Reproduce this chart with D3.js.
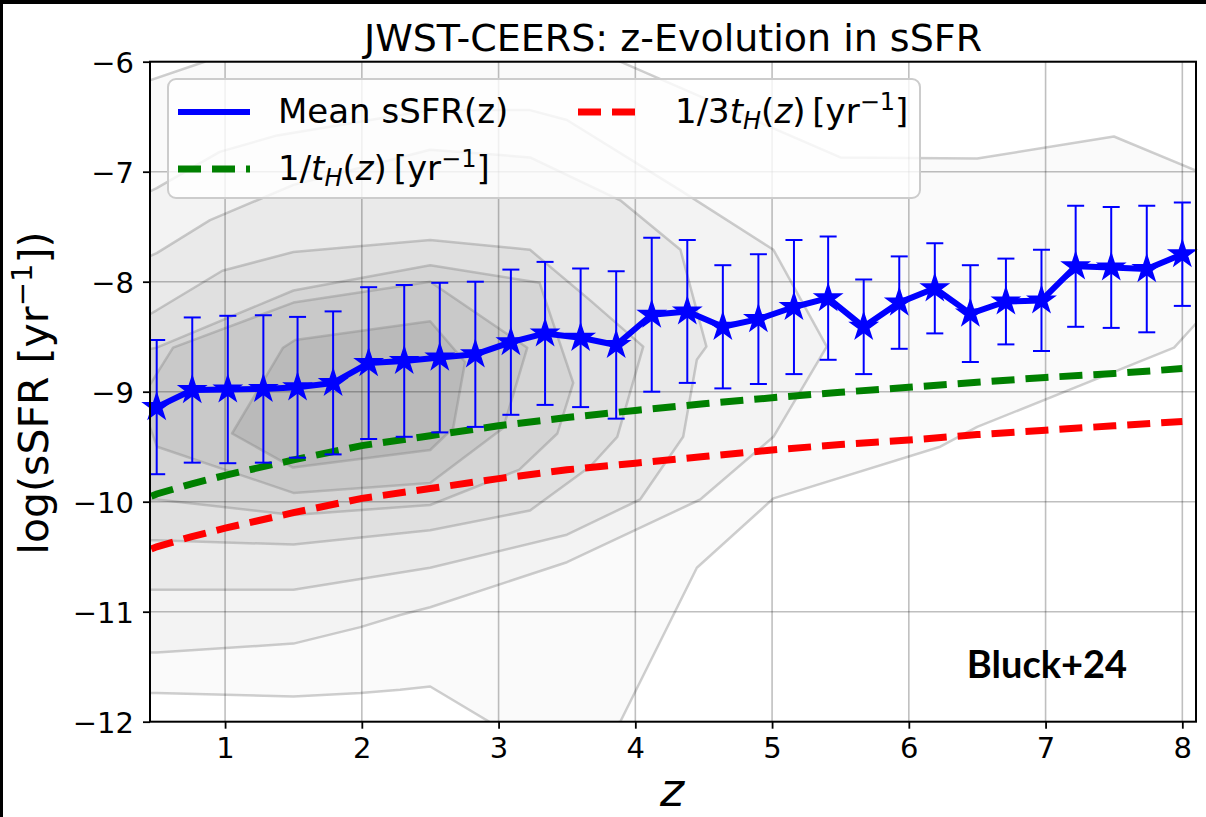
<!DOCTYPE html>
<html>
<head>
<meta charset="utf-8">
<script src="https://cdn.jsdelivr.net/npm/d3@7"></script>
<style>
  body { margin: 0; background: #fff; }
  svg { display: block; }
  text { font-family: "DejaVu Sans", sans-serif; }
</style>
</head>
<body>
<div id="chart"></div>
<script>
// redshift bins and mean sSFR with 1-sigma errors
const zBins = [0.50, 0.76, 1.02, 1.28, 1.53, 1.79, 2.05, 2.31, 2.57, 2.83,
               3.09, 3.34, 3.60, 3.86, 4.12, 4.38, 4.64, 4.90, 5.16, 5.41,
               5.67, 5.93, 6.19, 6.45, 6.71, 6.97, 7.22, 7.48, 7.74, 8.00];
const meanSSFR = [-9.14, -8.985, -8.98, -8.975, -8.96, -8.92, -8.74, -8.72, -8.69, -8.66,
                  -8.55, -8.47, -8.51, -8.575, -8.30, -8.27, -8.41, -8.34, -8.23, -8.15,
                  -8.41, -8.19, -8.06, -8.29, -8.18, -8.17, -7.86, -7.87, -7.885, -7.75];
const errSSFR = [0.61, 0.66, 0.67, 0.67, 0.64, 0.65, 0.69, 0.69, 0.68, 0.66,
                 0.66, 0.65, 0.63, 0.67, 0.70, 0.65, 0.56, 0.59, 0.61, 0.56,
                 0.43, 0.42, 0.41, 0.44, 0.39, 0.46, 0.55, 0.55, 0.575, 0.47];

// Hubble-time curves
const zCurve = [0.46, 0.5, 0.75, 1.0, 1.5, 2.0, 2.5, 3.0, 3.5, 4.0, 4.5, 5.0, 5.5, 6.0, 6.5, 7.0, 7.5, 8.0];
const invTH = [-9.95, -9.93, -9.84, -9.76, -9.62, -9.49, -9.40, -9.31, -9.235, -9.17,
               -9.11, -9.055, -9.005, -8.96, -8.915, -8.87, -8.835, -8.79];
const invThirdTH = [-10.43, -10.41, -10.32, -10.24, -10.10, -9.97, -9.88, -9.79, -9.71, -9.65,
                    -9.59, -9.53, -9.48, -9.44, -9.39, -9.35, -9.31, -9.27];

// KDE density contours (outer to inner), vertices as [z, log sSFR]
const kdeLevel1 = [[0.3, -6.1], [0.45, -6.17], [0.85, -6.0], [1.2, -5.7], [3.5, -5.7], [3.89, -6.0],
  [5.5, -6.87], [6.5, -6.88], [7.5, -6.68], [8.1, -6.99], [8.3, -7.0], [8.3, -8.2], [8.1, -8.38],
  [7.94, -8.6], [6.5, -9.32], [6.23, -9.5], [5.01, -9.97], [4.45, -10.6], [3.89, -12.0], [3.2, -12.2],
  [2.5, -11.68], [2.28, -11.71], [1.99, -11.74], [1.5, -11.77], [0.5, -11.74], [0.3, -11.74]];
const kdeLevel2 = [[0.3, -7.27], [0.5, -7.15], [0.96, -6.82], [1.38, -6.67], [2.5, -6.44], [3.23, -6.44],
  [3.5, -6.53], [4.33, -7.17], [5.01, -7.71], [5.40, -8.59], [5.01, -9.41], [4.475, -9.98],
  [3.5, -10.55], [2.5, -10.96], [2.28, -11.03], [1.99, -11.14], [1.5, -11.29], [0.5, -11.37], [0.3, -11.37]];
const kdeLevel3 = [[0.3, -7.85], [0.5, -7.74], [0.89, -7.44], [1.5, -7.12], [2.5, -6.8], [3.23, -6.87],
  [3.89, -7.26], [4.33, -7.71], [4.52, -8.59], [4.45, -8.71], [4.35, -9.41], [4.035, -9.98],
  [3.5, -10.3], [2.5, -10.6], [1.5, -10.8], [0.5, -10.8], [0.3, -10.8]];
const kdeLevel4 = [[0.3, -8.4], [0.5, -8.26], [0.98, -7.9], [1.5, -7.73], [2.5, -7.62], [3.23, -7.71],
  [3.67, -8.17], [4.058, -8.59], [3.868, -9.41], [3.67, -9.68], [3.23, -10.08], [2.5, -10.26],
  [1.5, -10.39], [0.5, -10.35], [0.3, -10.35]];
const kdeLevel5 = [[0.3, -8.65], [0.5, -8.6], [1.5, -8.08], [2.5, -7.85], [3.30, -8.01], [3.546, -8.92],
  [3.43, -9.38], [3.15, -9.71], [2.5, -10.03], [1.5, -10.12], [0.5, -9.98], [0.3, -9.98]];
const kdeLevel6 = [[0.62, -8.6], [1.5, -8.19], [2.5, -8.0], [3.21, -8.6], [3.034, -9.33], [2.5, -9.83],
  [1.5, -9.92], [0.503, -9.5], [0.378, -9.08]];
const kdeLevel7 = [[1.051, -9.38], [1.424, -8.6], [1.512, -8.53], [2.5, -8.36], [2.755, -8.73],
  [2.668, -9.33], [2.5, -9.53], [1.497, -9.69]];
const kdeLevels = [kdeLevel1, kdeLevel2, kdeLevel3, kdeLevel4, kdeLevel5, kdeLevel6, kdeLevel7];
const kdeFills = ["#fafafa", "#f3f3f3", "#eaeaea", "#e0e0e0", "#d5d5d5", "#c9c9c9", "#bababa"];

const xTicks = [1, 2, 3, 4, 5, 6, 7, 8];
const yTicks = [-12, -11, -10, -9, -8, -7, -6];

const W = 1206, H = 817;
const margin = { top: 61.7, right: 10, bottom: 95.3, left: 150 };

const svg = d3.select("#chart").append("svg").attr("width", W).attr("height", H);

// screenshot frame on the top and left
svg.append("rect").attr("x", 0).attr("y", 0).attr("width", W).attr("height", 4).attr("fill", "#000");
svg.append("rect").attr("x", 0).attr("y", 0).attr("width", 3).attr("height", H).attr("fill", "#000");

const x = d3.scaleLinear().domain([0.451, 8.1]).range([margin.left, W - margin.right]);
const y = d3.scaleLinear().domain([-12, -6]).range([H - margin.bottom, margin.top]);

svg.append("clipPath").attr("id", "plotclip")
  .append("rect")
  .attr("x", x.range()[0]).attr("y", y.range()[1])
  .attr("width", x.range()[1] - x.range()[0]).attr("height", y.range()[0] - y.range()[1]);

const plot = svg.append("g").attr("clip-path", "url(#plotclip)");

// filled contours
const ring = d3.line().x(d => x(d[0])).y(d => y(d[1])).curve(d3.curveLinearClosed);
kdeLevels.forEach((lev, i) => {
  plot.append("path").attr("d", ring(lev)).attr("fill", kdeFills[i]).attr("stroke", "none");
});
kdeLevels.forEach((lev, i) => {
  plot.append("path").attr("d", ring(lev)).attr("fill", "none")
    .attr("stroke", "#888").attr("stroke-opacity", 0.4).attr("stroke-width", 2.5)
    .attr("stroke-linejoin", "round");
});

// grid
plot.selectAll(".gx").data(xTicks).enter().append("line")
  .attr("x1", d => x(d)).attr("x2", d => x(d))
  .attr("y1", y.range()[1]).attr("y2", y.range()[0])
  .attr("stroke", "#000").attr("stroke-opacity", 0.25).attr("stroke-width", 1.6);
plot.selectAll(".gy").data(yTicks).enter().append("line")
  .attr("x1", x.range()[0]).attr("x2", x.range()[1])
  .attr("y1", d => y(d)).attr("y2", d => y(d))
  .attr("stroke", "#000").attr("stroke-opacity", 0.25).attr("stroke-width", 1.6);

// Hubble time curves
const curve = d3.line().x((d, i) => x(zCurve[i])).y(d => y(d));
plot.append("path").attr("d", curve(invTH)).attr("fill", "none")
  .attr("stroke", "#008000").attr("stroke-width", 7).attr("stroke-dasharray", "23,11");
plot.append("path").attr("d", curve(invThirdTH)).attr("fill", "none")
  .attr("stroke", "#ff0000").attr("stroke-width", 7).attr("stroke-dasharray", "23,11");

// error bars
const pts = zBins.map((z, i) => ({ z: z, m: meanSSFR[i], e: errSSFR[i] }));
const eb = plot.append("g").attr("stroke", "#0000ff").attr("stroke-width", 2);
eb.selectAll(".ev").data(pts).enter().append("line")
  .attr("x1", d => x(d.z)).attr("x2", d => x(d.z))
  .attr("y1", d => y(d.m + d.e)).attr("y2", d => y(d.m - d.e));
eb.selectAll(".ct").data(pts).enter().append("line")
  .attr("x1", d => x(d.z) - 8.5).attr("x2", d => x(d.z) + 8.5)
  .attr("y1", d => y(d.m + d.e)).attr("y2", d => y(d.m + d.e));
eb.selectAll(".cb").data(pts).enter().append("line")
  .attr("x1", d => x(d.z) - 8.5).attr("x2", d => x(d.z) + 8.5)
  .attr("y1", d => y(d.m - d.e)).attr("y2", d => y(d.m - d.e));

// mean line with star markers
plot.append("path")
  .attr("d", d3.line().x(d => x(d.z)).y(d => y(d.m))(pts))
  .attr("fill", "none").attr("stroke", "#0000ff").attr("stroke-width", 6)
  .attr("stroke-linejoin", "round");

function starPath(r) {
  const r2 = r * 0.381966;
  let p = "";
  for (let k = 0; k < 10; k++) {
    const a = -Math.PI / 2 + k * Math.PI / 5;
    const rr = k % 2 === 0 ? r : r2;
    p += (k === 0 ? "M" : "L") + (rr * Math.cos(a)).toFixed(2) + "," + (rr * Math.sin(a)).toFixed(2);
  }
  return p + "Z";
}
svg.selectAll(".star").data(pts).enter().append("path")
  .attr("d", starPath(13.8))
  .attr("transform", d => `translate(${x(d.z)},${y(d.m)})`)
  .attr("fill", "#0000ff").attr("stroke", "#0000ff").attr("stroke-width", 1.5)
  .attr("stroke-linejoin", "miter");

// axes
const xAxis = svg.append("g").attr("transform", `translate(0,${y.range()[0]})`)
  .call(d3.axisBottom(x).tickValues(xTicks).tickSize(7).tickPadding(8).tickFormat(d3.format("d")));
const yAxis = svg.append("g").attr("transform", `translate(${x.range()[0]},0)`)
  .call(d3.axisLeft(y).tickValues(yTicks).tickSize(7).tickPadding(9)
    .tickFormat(d => d < 0 ? "\u2212" + Math.abs(d) : d));
[xAxis, yAxis].forEach(g => {
  g.select(".domain").remove();
  g.selectAll(".tick line").attr("stroke", "#000").attr("stroke-width", 1.8);
  g.selectAll(".tick text").attr("fill", "#000").style("font-size", "29px")
    .style("font-family", "'DejaVu Sans', sans-serif");
});
yAxis.selectAll(".tick text").attr("dy", "0.36em");
xAxis.selectAll(".tick text").attr("dy", "0.74em");

// spines
svg.append("rect")
  .attr("x", x.range()[0]).attr("y", y.range()[1])
  .attr("width", x.range()[1] - x.range()[0]).attr("height", y.range()[0] - y.range()[1])
  .attr("fill", "none").attr("stroke", "#000").attr("stroke-width", 2);

// legend
const lg = svg.append("g");
lg.append("rect").attr("x", 168).attr("y", 79).attr("width", 752).attr("height", 119)
  .attr("rx", 8).attr("fill", "#fff").attr("fill-opacity", 0.8)
  .attr("stroke", "#cccccc").attr("stroke-width", 2);
lg.append("line").attr("x1", 178).attr("x2", 250).attr("y1", 112).attr("y2", 112)
  .attr("stroke", "#0000ff").attr("stroke-width", 6);
lg.append("line").attr("x1", 178).attr("x2", 250).attr("y1", 169).attr("y2", 169)
  .attr("stroke", "#008000").attr("stroke-width", 7).attr("stroke-dasharray", "23,11");
lg.append("line").attr("x1", 578).attr("x2", 646).attr("y1", 112).attr("y2", 112)
  .attr("stroke", "#ff0000").attr("stroke-width", 7).attr("stroke-dasharray", "23,11");

lg.append("text").attr("x", 278).attr("y", 123).style("font-size", "34px").text("Mean sSFR(z)");

function hubbleLabel(tx, ty, prefix) {
  const t = lg.append("text").attr("x", tx).attr("y", ty).style("font-size", "34px");
  t.append("tspan").text(prefix);
  t.append("tspan").style("font-style", "italic").text("t");
  t.append("tspan").style("font-style", "italic").style("font-size", "24px").attr("dy", 6).text("H");
  t.append("tspan").attr("dy", -6).text("(");
  t.append("tspan").style("font-style", "italic").text("z");
  t.append("tspan").text(")\u2009[yr");
  t.append("tspan").style("font-size", "24px").attr("dy", -13).text("\u22121");
  t.append("tspan").attr("dy", 13).text("]");
}
hubbleLabel(278, 180, "1/");
hubbleLabel(675, 123, "1/3");

// titles
svg.append("text").attr("x", 673).attr("y", 51).attr("text-anchor", "middle")
  .style("font-size", "38px").text("JWST-CEERS: z-Evolution in sSFR");
svg.append("text").attr("x", 672).attr("y", 806).attr("text-anchor", "middle")
  .style("font-size", "46px").style("font-style", "italic").text("z");
const yl = svg.append("text").attr("transform", "translate(48,393) rotate(-90)")
  .attr("text-anchor", "middle").style("font-size", "41px");
yl.append("tspan").text("log(sSFR [yr");
yl.append("tspan").style("font-size", "29px").attr("dy", -16).text("\u22121");
yl.append("tspan").attr("dy", 16).text("])");

svg.append("text").attr("x", 1047).attr("y", 678).attr("text-anchor", "middle")
  .style("font-family", "Lato, sans-serif").style("font-weight", "bold").style("font-size", "38px")
  .text("Bluck+24");
</script>
</body>
</html>
